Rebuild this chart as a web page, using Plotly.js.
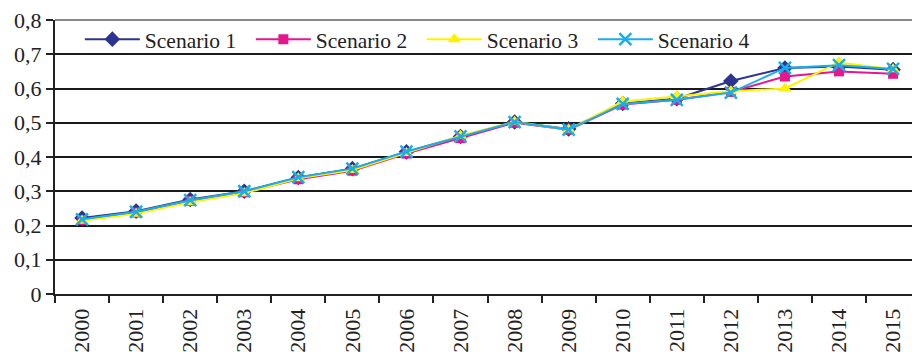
<!DOCTYPE html>
<html><head><meta charset="utf-8">
<script src="https://cdn.plot.ly/plotly-3.0.1.min.js"></script>
<style>html,body{margin:0;padding:0;background:#fff;}#chart{width:912px;height:355px;}</style>
</head><body><div id="chart"></div>
<script>
const years = ["2000","2001","2002","2003","2004","2005","2006","2007","2008","2009","2010","2011","2012","2013","2014","2015"];
const scenario1 = [0.222,0.242,0.276,0.300,0.340,0.366,0.415,0.460,0.502,0.482,0.556,0.570,0.622,0.660,0.664,0.655];
const scenario2 = [0.216,0.238,0.272,0.297,0.335,0.360,0.410,0.455,0.500,0.480,0.553,0.567,0.590,0.635,0.650,0.643];
const scenario3 = [0.214,0.234,0.268,0.294,0.338,0.362,0.412,0.462,0.503,0.480,0.562,0.578,0.592,0.600,0.676,0.656];
const scenario4 = [0.218,0.240,0.274,0.300,0.341,0.366,0.416,0.460,0.502,0.480,0.555,0.567,0.588,0.660,0.668,0.657];
const seriesNames = ["Scenario 1","Scenario 2","Scenario 3","Scenario 4"];
const yTickVals = [0,0.1,0.2,0.3,0.4,0.5,0.6,0.7,0.8];
const yTickText = ["0","0,1","0,2","0,3","0,4","0,5","0,6","0,7","0,8"];

const styles = [
  {color:"#2B3590", symbol:"diamond", size:12},
  {color:"#E6168C", symbol:"square", size:10},
  {color:"#FFF200", symbol:"triangle-up", size:12},
  {color:"#19AEEA", symbol:"x-thin-open", size:12}
];
const data = [scenario1,scenario2,scenario3,scenario4].map((vals,i)=>({
  x: years, y: vals, name: seriesNames[i], type:"scatter", mode:"lines+markers",
  line:{color:styles[i].color, width:2},
  marker:{color:styles[i].color, symbol:styles[i].symbol, size:styles[i].size,
          line:{color:styles[i].color, width: i===3 ? 2.5 : 0}}
}));

const tickFont = {family:"Liberation Serif", size:22, color:"#222"};
const legFont = {family:"Liberation Serif", size:21.5, color:"#222"};
const layout = {
  width:912, height:355,
  margin:{l:55, r:0, t:20, b:61, pad:0},
  paper_bgcolor:"#fff", plot_bgcolor:"#fff",
  font: tickFont,
  showlegend:true,
  legend:{orientation:"h", x:0.029, y:0.93, xanchor:"left", yanchor:"middle",
          bgcolor:"rgba(255,255,255,0)", borderwidth:0, itemwidth:55,
          entrywidth:101, entrywidthmode:"pixels", font:legFont, tracegroupgap:0},
  xaxis:{type:"category", range:[-0.5,15.35], tickangle:-90, tickson:"boundaries",
         ticks:"outside", ticklen:7, tickcolor:"#222", tickwidth:2, ticklabelstandoff:4,
         showline:true, linecolor:"#222", linewidth:2, showgrid:false, zeroline:false,
         tickfont:tickFont, fixedrange:true},
  yaxis:{range:[0,0.8], tickvals:yTickVals, ticktext:yTickText,
         ticks:"outside", ticklen:7, tickcolor:"#222", tickwidth:2,
         showline:true, linecolor:"#222", linewidth:2,
         showgrid:true, gridcolor:"#1a1a1a", gridwidth:2, zeroline:false,
         tickfont:tickFont, fixedrange:true},
  shapes:[{type:"line", xref:"paper", yref:"paper", x0:0, x1:1, y0:1, y1:1,
           line:{color:"#888", width:2}, layer:"above"}]
};
Plotly.newPlot("chart", data, layout, {displayModeBar:false, staticPlot:true});
</script></body></html>
